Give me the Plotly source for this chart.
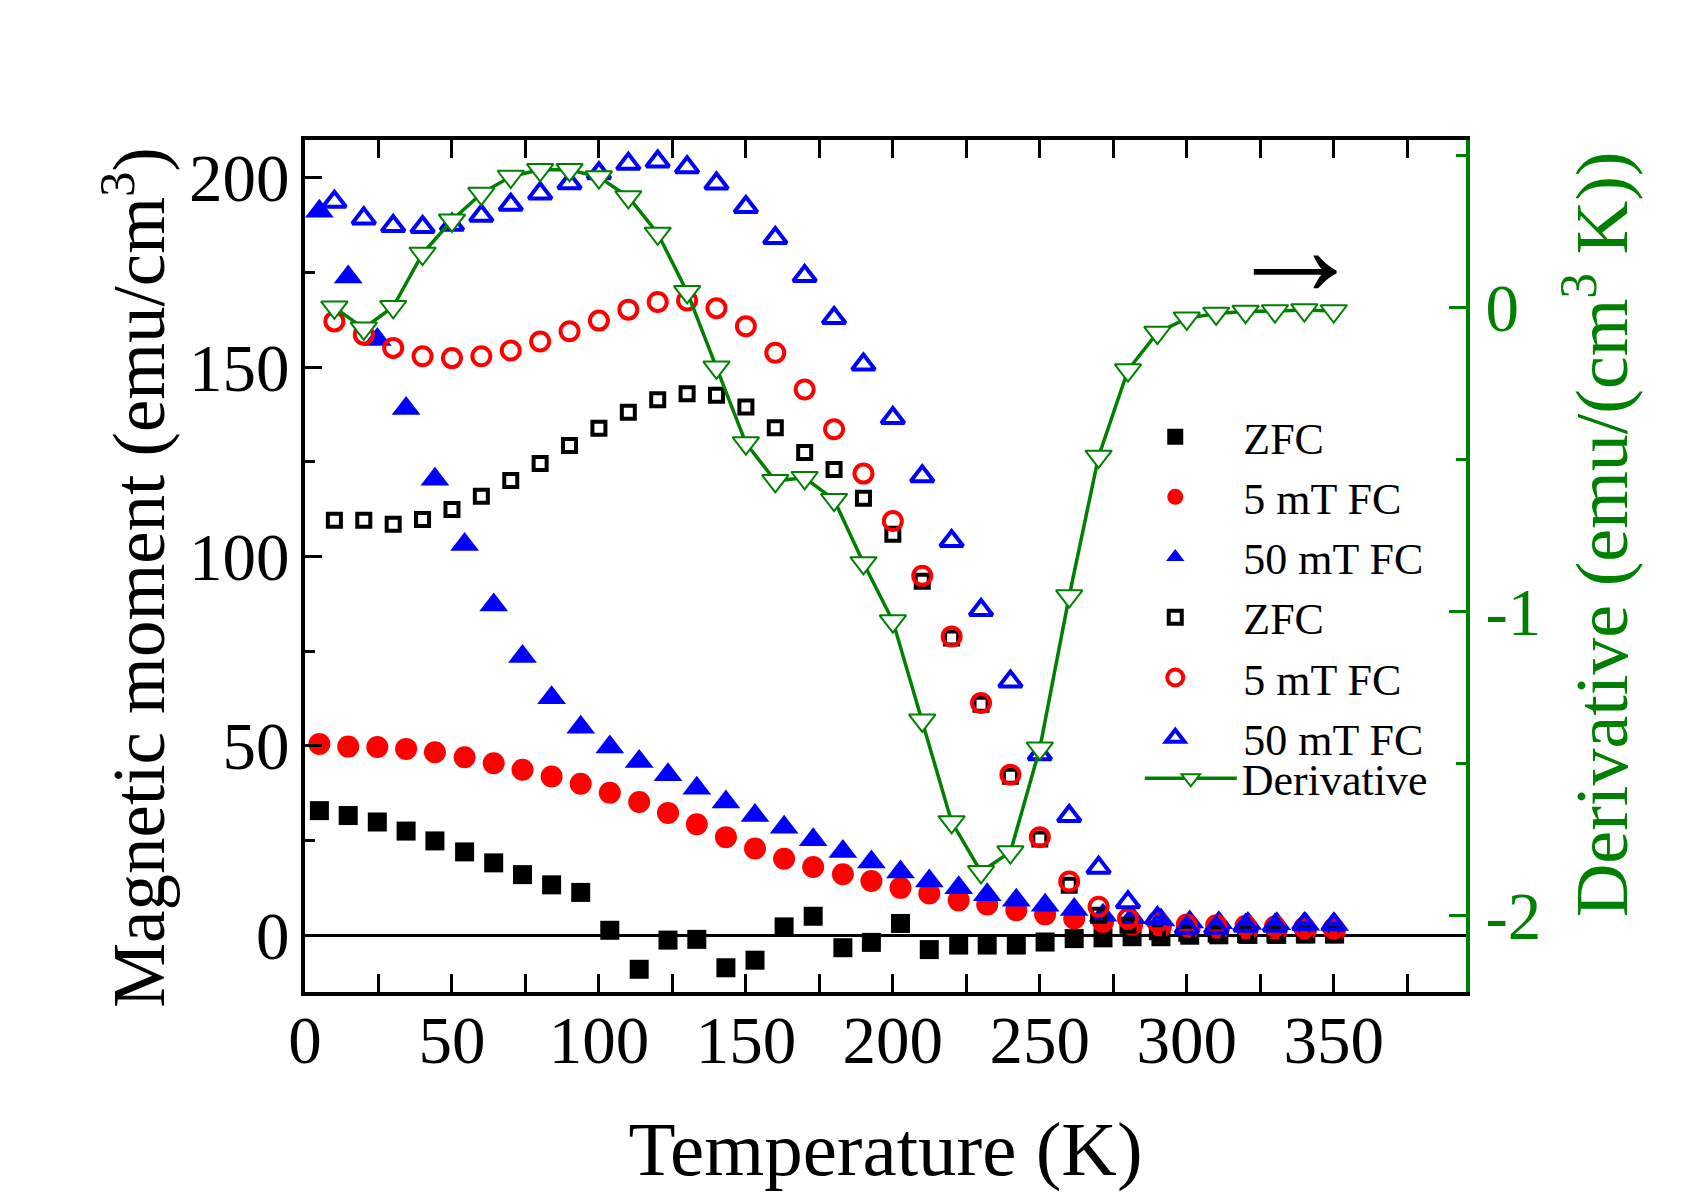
import plotly.graph_objects as go

# ---------------- data ----------------
T_filled = [4.9, 14.7, 24.6, 34.4, 44.2, 54.3, 64.2, 74.0, 83.9, 93.8, 103.7, 113.7,
            123.5, 133.3, 143.2, 153.1, 163.0, 172.9, 183.0, 192.7, 202.6, 212.4,
            222.4, 232.1, 242.0, 251.8, 261.7, 271.5, 281.4, 291.2, 301.0, 310.9,
            320.8, 330.6, 340.5, 350.3]
zfc_filled = [32.9, 31.6, 29.9, 27.5, 24.9, 22.0, 19.1, 16.0, 13.3, 11.3, 1.3, -9.0,
              -1.3, -1.1, -8.6, -6.6, 2.2, 5.0, -3.3, -1.9, 3.1, -3.8, -2.6, -2.6,
              -2.6, -1.8, -0.9, -0.7, -0.4, -0.4, 0.0, 0.1, 0.2, 0.2, 0.3, 0.3]
fc5_filled = [50.5, 49.8, 49.7, 49.2, 48.3, 47.0, 45.4, 43.7, 41.9, 40.0, 37.6, 35.2,
              32.3, 29.3, 25.9, 22.9, 20.2, 18.0, 16.1, 14.3, 12.5, 11.0, 9.2, 8.1,
              6.6, 5.5, 4.4, 3.5, 2.8, 2.3, 2.0, 1.8, 1.6, 1.4, 1.2, 1.0]
fc50_filled = [191.2, 173.8, 157.3, 139.1, 120.4, 103.2, 87.2, 73.6, 62.7, 54.9, 49.7,
               45.9, 42.4, 38.8, 35.2, 31.6, 28.5, 25.2, 22.1, 19.3, 16.7, 14.3, 12.5,
               10.7, 9.2, 7.9, 6.8, 5.3, 4.6, 4.0, 3.5, 3.3, 3.1, 3.0, 2.9, 2.8]

T_open = [10, 20, 30, 40, 50, 60, 70, 80, 90, 100, 110, 120, 130, 140, 150, 160, 170,
          180, 190, 200, 210, 220, 230, 240, 250, 260, 270, 280, 290, 300, 310, 320,
          330, 340, 350]
zfc_open = [109.6, 109.6, 108.5, 109.8, 112.4, 115.9, 120.1, 124.6, 129.3, 133.9, 138.1,
            141.4, 143.0, 142.6, 139.5, 134.0, 127.5, 123.0, 115.4, 105.9, 93.5, 78.5,
            61.0, 42.0, 25.4, 13.2, 5.3, 2.6, 0.9, 0.5, 0.3, 0.2, 0.2, 0.1, 0.1]
fc5_open = [162.1, 158.6, 155.1, 152.9, 152.4, 152.9, 154.4, 156.8, 159.5, 162.3, 165.2,
            167.2, 167.6, 165.6, 160.8, 153.8, 144.1, 133.6, 121.9, 109.4, 94.9, 78.9,
            61.3, 42.4, 25.9, 14.2, 7.5, 4.4, 3.5, 2.8, 2.6, 2.5, 2.3, 2.0, 1.8]
fc50_open = [193.7, 189.3, 187.3, 187.0, 187.6, 190.0, 192.9, 195.9, 198.6, 201.2, 203.7,
             204.3, 202.8, 198.5, 192.3, 184.1, 174.1, 163.0, 150.7, 136.6, 121.2, 104.1,
             85.9, 67.0, 47.8, 31.5, 17.8, 8.7, 4.5, 2.0, 2.0, 2.5, 2.5, 2.9, 2.8]
deriv = [0.0, -0.069, 0.002, 0.177, 0.286, 0.374, 0.430, 0.452, 0.452, 0.428, 0.363,
         0.243, 0.051, -0.197, -0.446, -0.57, -0.56, -0.632, -0.84, -1.031, -1.357,
         -1.691, -1.855, -1.790, -1.449, -0.949, -0.490, -0.206, -0.083, -0.036, -0.020,
         -0.014, -0.012, -0.009, -0.012]

y2_tickvals = [-2, -1, 0]
y2_ticktext = ["-2", "-1", "0"]

FONT = "Liberation Serif"
GREEN = "#008000"

fig = go.Figure()
fig.add_trace(go.Scatter(x=T_filled, y=zfc_filled, mode="markers", name="ZFC",
                         marker=dict(symbol="square", size=19, color="black")))
fig.add_trace(go.Scatter(x=T_filled, y=fc5_filled, mode="markers", name="5 mT FC",
                         marker=dict(symbol="circle", size=22, color="#FF0000")))
fig.add_trace(go.Scatter(x=T_filled, y=fc50_filled, mode="markers", name="50 mT FC",
                         marker=dict(symbol="triangle-up", size=25, color="#0000FF")))
fig.add_trace(go.Scatter(x=T_open, y=zfc_open, mode="markers", name="ZFC",
                         marker=dict(symbol="square-open", size=13, color="black",
                                     line=dict(width=4))))
fig.add_trace(go.Scatter(x=T_open, y=fc5_open, mode="markers", name="5 mT FC",
                         marker=dict(symbol="circle-open", size=18, color="#FF0000",
                                     line=dict(width=4))))
fig.add_trace(go.Scatter(x=T_open, y=fc50_open, mode="markers", name="50 mT FC",
                         marker=dict(symbol="triangle-up-open", size=20, color="#0000FF",
                                     line=dict(width=4))))
fig.add_trace(go.Scatter(x=T_open, y=deriv, mode="lines+markers", name="Derivative",
                         yaxis="y2", legend="legend2", line=dict(color=GREEN, width=3.5),
                         marker=dict(symbol="triangle-down", size=23, color="white",
                                     line=dict(color=GREEN, width=2))))

fig.update_layout(
    width=1705, height=1192,
    margin=dict(l=305, r=239, t=140, b=198),
    paper_bgcolor="white", plot_bgcolor="white",
    font=dict(family=FONT, color="black"),
    showlegend=True,
    legend=dict(x=0.691, y=0.693, xanchor="left", yanchor="top",
                bgcolor="rgba(0,0,0,0)", font=dict(family=FONT, size=44),
                itemwidth=126, tracegroupgap=0),
    legend2=dict(x=0.719, y=0.292, xanchor="left", yanchor="top",
                 bgcolor="rgba(0,0,0,0)", font=dict(family=FONT, size=44),
                 itemwidth=92, tracegroupgap=0),
    xaxis=dict(range=[0, 395], tick0=0, dtick=50, showline=True, linewidth=4,
               linecolor="black", mirror="allticks", ticks="inside", ticklen=18,
               tickwidth=3, tickcolor="black", showgrid=False, zeroline=False,
               minor=dict(dtick=25, ticks="inside", ticklen=10, tickwidth=3,
                          tickcolor="black"),
               tickfont=dict(family=FONT, size=67), ticklabelstandoff=-13,
               title=dict(text="Temperature (K)", font=dict(family=FONT, size=77),
                          standoff=49)),
    yaxis=dict(range=[-15, 210], tick0=0, dtick=50, showline=True, linewidth=4,
               linecolor="black", mirror=False, ticks="inside", ticklen=17,
               tickwidth=3, tickcolor="black", showgrid=False,
               zeroline=True, zerolinecolor="black", zerolinewidth=3,
               minor=dict(dtick=25, ticks="inside", ticklen=10, tickwidth=3,
                          tickcolor="black"),
               tickfont=dict(family=FONT, size=67), ticklabelstandoff=-2),
    yaxis2=dict(overlaying="y", side="right", range=[-2.25, 0.55],
                tickvals=y2_tickvals, ticktext=y2_ticktext, showline=True,
                linewidth=4, linecolor=GREEN, ticks="inside", ticklen=17,
                tickwidth=3, tickcolor=GREEN, showgrid=False, zeroline=False,
                minor=dict(tickvals=[-1.5, -0.5, 0.5], ticks="inside", ticklen=10,
                           tickwidth=3, tickcolor=GREEN),
                tickfont=dict(family=FONT, size=67, color=GREEN), ticklabelstandoff=2),
    annotations=[
        dict(text="Magnetic moment (emu/cm<sup>3</sup>)", textangle=-90,
             x=-0.1475, y=0.487, xref="paper", yref="paper", xanchor="center",
             yanchor="middle", showarrow=False,
             font=dict(family=FONT, size=73, color="black")),
        dict(text="Derivative (emu/(cm<sup>3</sup> K))", textangle=-90,
             x=1.112, y=0.5375, xref="paper", yref="paper", xanchor="center",
             yanchor="middle", showarrow=False,
             font=dict(family=FONT, size=74, color=GREEN)),
        dict(text="\u2192", x=336.7, y=181.7, xref="x", yref="y",
             showarrow=False, font=dict(family=FONT, size=140, color="black")),
    ],
)

fig.write_html("out.html")
